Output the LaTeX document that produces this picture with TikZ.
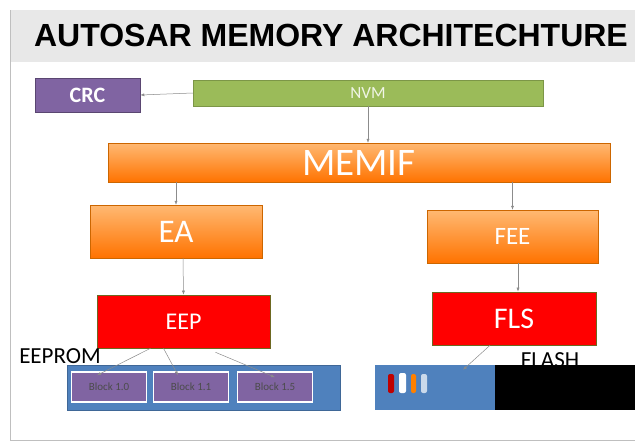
\documentclass[tikz,border=0pt]{standalone}
\usepackage{fontspec}
\setmainfont{Carlito}
\newfontfamily\titlefont{Liberation Sans}
\usetikzlibrary{arrows.meta}

\definecolor{crcpurple}{HTML}{8064A2}
\definecolor{nvmgreen}{HTML}{9BBB59}
\definecolor{barblue}{HTML}{4F81BD}
\definecolor{linegray}{HTML}{8C8C8C}

\begin{document}
\begin{tikzpicture}[x=1pt, y=-1pt, >={Latex[length=4pt,width=3pt]},
  box/.style={inner sep=0pt, text=white},
  orangebox/.style={box, top color=orange!55!white, bottom color=orange!90!red,
    draw=orange!80!black, line width=0.3pt},
  redbox/.style={box, fill=red, draw=olive!70!black, line width=0.6pt},
  blk/.style={inner sep=0pt, fill=crcpurple, draw=white, line width=1.5pt,
    minimum width=75pt, minimum height=30pt, text=black!70, font=\fontsize{11}{11}\selectfont},
  link/.style={->, linegray, line width=0.5pt}]
  \useasboundingbox (0,0) rectangle (635,445);
  \fill[white] (0,0) rectangle (635,445);
  % header band and frame
  \fill[black!9] (10,10) rectangle (635,62);
  \draw[black!25, line width=1pt] (10,10) -- (10,440) -- (635,440);
  \node[font=\titlefont\bfseries\fontsize{32}{32}\selectfont, inner sep=0pt] (titel) at (331,35)
    {AUTOSAR MEMORY ARCHITECHTURE};

  % top row
  \node[box, fill=crcpurple, draw=crcpurple!70!black, line width=0.5pt, minimum width=105pt,
    minimum height=34pt, font=\bfseries\fontsize{22}{22}\selectfont] (crc) at (87.5,95) {CRC};
  \node[box, fill=nvmgreen, draw=nvmgreen!80!black, line width=0.3pt, minimum width=350pt,
    minimum height=26pt, text=nvmgreen!15!white, font=\fontsize{17}{17}\selectfont] (nvm) at (368,93) {NVM};
  \node[orangebox, minimum width=502pt, minimum height=39pt,
    font=\fontsize{39}{39}\selectfont] (memif) at (359,162.5) {MEMIF};

  % layers
  \node[orangebox, minimum width=172pt, minimum height=53pt,
    font=\fontsize{33}{33}\selectfont] (ea) at (176,231.5) {EA};
  \node[orangebox, minimum width=171pt, minimum height=53pt,
    font=\fontsize{25}{25}\selectfont] (fee) at (512.5,236.5) {FEE};
  \node[redbox, minimum width=173pt, minimum height=53pt,
    font=\fontsize{24}{24}\selectfont] (eep) at (183.5,321.5) {EEP};
  \node[redbox, minimum width=164pt, minimum height=53pt,
    font=\fontsize{30}{30}\selectfont] (fls) at (514,318.5) {FLS};

  % memories
  \node[inner sep=0pt, font=\fontsize{23}{23}\selectfont] (eeprom) at (60,356) {EEPROM};
  \node[inner sep=0pt, font=\fontsize{23}{23}\selectfont] (flash) at (550,360) {FLASH};
  \node[inner sep=0pt, fill=barblue, draw=barblue!80!black, line width=0.4pt,
    minimum width=273pt, minimum height=45pt] (eebar) at (203.5,387.5) {};
  \node[blk] (blk1) at (109,387) {Block 1.0};
  \node[blk] (blk2) at (191,387) {Block 1.1};
  \node[blk] (blk3) at (275,387) {Block 1.5};
  \node[inner sep=0pt, fill=barblue, minimum width=120pt, minimum height=45pt] (flbar) at (435,387.5) {};
  \node[inner sep=0pt, fill=black, minimum width=140pt, minimum height=45pt] (flblack) at (565,387.5) {};
  \fill[red!75!black, rounded corners=2pt] (388,374) rectangle (394,393);
  \fill[white, rounded corners=2pt] (399,373) rectangle (406,393);
  \fill[orange, rounded corners=2pt] (411,374) rectangle (416,393);
  \fill[white!70!barblue, rounded corners=2pt] (421,374) rectangle (427,393);

  % connectors
  \draw[link] (nvm.west) -- (crc.east);
  \draw[link] (nvm.south) -- (memif.north -| nvm.south);
  \draw[link] (memif.south -| ea.north) -- (ea.north);
  \draw[link] (memif.south -| fee.north) -- (fee.north);
  \draw[link] (ea.south -| 183,0) -- (eep.north);
  \draw[link] (fee.south -| 518,0) -- (fls.north -| 518,0);
  \draw[link] ([xshift=-33pt]eep.south) -- ([xshift=-12pt,yshift=-4pt]blk1.north);
  \draw[link] ([xshift=-20pt]eep.south) -- ([xshift=-13pt,yshift=-4pt]blk2.north);
  \draw[link] ([xshift=32pt,yshift=-4pt]eep.south) -- ([yshift=-6pt]blk3.north);
  \draw[link] ([xshift=-24pt]fls.south) -- ([xshift=28pt,yshift=-5pt]flbar.north);
\end{tikzpicture}
\end{document}
